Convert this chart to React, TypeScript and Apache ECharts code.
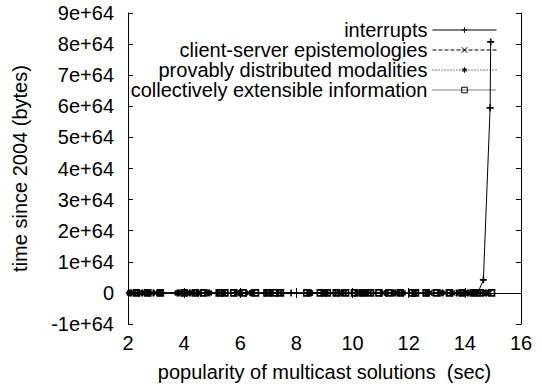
import React, { useEffect, useRef } from "react";
import * as echarts from "echarts";

const seriesNames = [
  "interrupts",
  "client-server epistemologies",
  "provably distributed modalities",
  "collectively extensible information",
];

const interruptsX = [2.1, 2.5, 2.9, 3.2, 3.8, 4.2, 4.6, 5.2, 5.8, 6.2, 6.5, 6.9, 7.3, 7.81, 8.4, 8.9, 9.5, 10.1, 10.5, 11.0, 11.5, 12.15, 12.7, 13.2, 13.7, 14.1, 14.46, 14.66, 14.9, 14.92];
const interruptsY = [0, 0, 0, 0, 0, 0, 0, 0, 0, 0, 0, 0, 0, 0, 0, 0, 0, 0, 0, 0, 0, 0, 0, 0, 0, 0, 0, 0.42e64, 5.95e64, 8.07e64];

const clientX = [2.2, 2.6, 3.0, 3.9, 4.3, 4.8, 5.3, 5.9, 6.3, 7.0, 7.4, 8.45, 8.95, 9.45, 9.7, 10.2, 10.6, 11.1, 11.6, 12.2, 12.75, 13.3, 13.8, 14.2, 14.6, 14.85];
const clientY = [0, 0, 0, 0, 0, 0, 0, 0, 0, 0, 0, 0, 0, 0, 0, 0, 0, 0, 0, 0, 0, 0, 0, 0, 0, 0];

const provablyX = [2.05, 2.4, 2.75, 3.1, 3.75, 4.1, 4.5, 4.9, 5.4, 6.0, 6.4, 7.1, 8.5, 9.05, 9.6, 10.3, 10.45, 11.2, 11.45, 11.8, 12.65, 13.1, 13.55, 14.0, 14.35, 14.75];
const provablyY = [0, 0, 0, 0, 0, 0, 0, 0, 0, 0, 0, 0, 0, 0, 0, 0, 0, 0, 0, 0, 0, 0, 0, 0, 0, 0];

const collectivelyX = [2.3, 2.7, 3.15, 4.0, 4.4, 4.7, 5.25, 5.45, 5.77, 6.1, 6.54, 6.95, 7.2, 7.43, 8.37, 8.85, 9.1, 9.42, 9.75, 10.07, 10.35, 10.64, 10.94, 11.3, 11.7, 12.12, 12.24, 12.62, 13.0, 13.45, 13.9, 14.3, 14.55, 14.95];
const collectivelyY = [0, 0, 0, 0, 0, 0, 0, 0, 0, 0, 0, 0, 0, 0, 0, 0, 0, 0, 0, 0, 0, 0, 0, 0, 0, 0, 0, 0, 0, 0, 0, 0, 0, 0];

const xTicks = { min: 2, max: 16, interval: 2 };
const yTicks = { min: -1e64, max: 9e64, interval: 1e64 };

const FONT = "Liberation Sans, Arial, Helvetica, sans-serif";

const pairs = (xs: number[], ys: number[]) => xs.map((x, i) => [x, ys[i]]);

const PLUS = "path://M0,5L10,5M5,0L5,10";
const CROSS = "path://M0,0L10,10M10,0L0,10";
const STAR = "path://M0,5L10,5M5,0L5,10M1.5,1.5L8.5,8.5M8.5,1.5L1.5,8.5";

export default function App() {
  const ref = useRef<HTMLDivElement>(null);
  useEffect(() => {
    if (!ref.current) return;
    const chart = echarts.init(ref.current, null, { renderer: "svg" });
    const mkSeries = (
      name: string,
      data: number[][],
      symbol: string,
      lineType: any,
      size: number
    ) => ({
      name,
      type: "line",
      data,
      symbol,
      symbolSize: size,
      showSymbol: true,
      showAllSymbol: true,
      lineStyle: { color: "#000", width: 1, type: lineType },
      itemStyle: { color: "none", borderColor: "#000", borderWidth: 1.6 },
      emphasis: { disabled: true },
    });
    const tickStyle = { show: true, inside: true, length: 5, lineStyle: { color: "#000", width: 1 } };
    const lineStyle = { show: true, lineStyle: { color: "#000", width: 1 } };
    chart.setOption({
      animation: false,
      textStyle: { fontFamily: FONT },
      grid: { left: 128, right: 21, top: 13, bottom: 63, containLabel: false },
      legend: {
        orient: "vertical",
        right: 40,
        top: 15,
        align: "right",
        itemWidth: 64,
        itemHeight: 7,
        itemGap: 0,
        lineStyle: { width: 1 },
        itemStyle: { borderWidth: 1 },
        textStyle: { fontSize: 20, fontFamily: FONT, color: "#000", lineHeight: 19.5 },
        data: seriesNames,
      },
      xAxis: [
        {
          type: "value",
          position: "bottom",
          min: xTicks.min,
          max: xTicks.max,
          interval: xTicks.interval,
          name: "popularity of multicast solutions  (sec)",
          nameLocation: "middle",
          nameGap: 38,
          nameTextStyle: { fontSize: 20, color: "#000", fontFamily: FONT },
          axisLine: lineStyle,
          axisTick: tickStyle,
          axisLabel: { fontSize: 20, color: "#000", margin: 9, fontFamily: FONT },
          splitLine: { show: false },
        },
        {
          type: "value",
          position: "top",
          min: xTicks.min,
          max: xTicks.max,
          interval: xTicks.interval,
          axisLine: lineStyle,
          axisTick: tickStyle,
          axisLabel: { show: false },
          splitLine: { show: false },
        },
      ],
      yAxis: [
        {
          type: "value",
          position: "left",
          min: yTicks.min,
          max: yTicks.max,
          interval: yTicks.interval,
          name: "time since 2004 (bytes)",
          nameLocation: "middle",
          nameGap: 98,
          nameTextStyle: { fontSize: 20, color: "#000", fontFamily: FONT },
          axisLine: lineStyle,
          axisTick: tickStyle,
          axisLabel: {
            fontSize: 20,
            color: "#000",
            margin: 14,
            fontFamily: FONT,
            formatter: (v: number) => {
              const k = Math.round(v / 1e64);
              return k === 0 ? "0" : `${k}e+64`;
            },
          },
          splitLine: { show: false },
        },
        {
          type: "value",
          position: "right",
          min: yTicks.min,
          max: yTicks.max,
          interval: yTicks.interval,
          axisLine: lineStyle,
          axisTick: tickStyle,
          axisLabel: { show: false },
          splitLine: { show: false },
        },
      ],
      series: [
        mkSeries(seriesNames[0], pairs(interruptsX, interruptsY), PLUS, "solid", 7),
        mkSeries(seriesNames[1], pairs(clientX, clientY), CROSS, [4, 2], 6),
        mkSeries(seriesNames[2], pairs(provablyX, provablyY), STAR, [1, 2], 7),
        mkSeries(seriesNames[3], pairs(collectivelyX, collectivelyY), "rect", [1, 1], 6),
      ],
    });
    return () => chart.dispose();
  }, []);
  return (
    <div
      ref={ref}
      style={{ position: "fixed", left: 0, top: 0, width: 542, height: 387, background: "#fff" }}
    />
  );
}
